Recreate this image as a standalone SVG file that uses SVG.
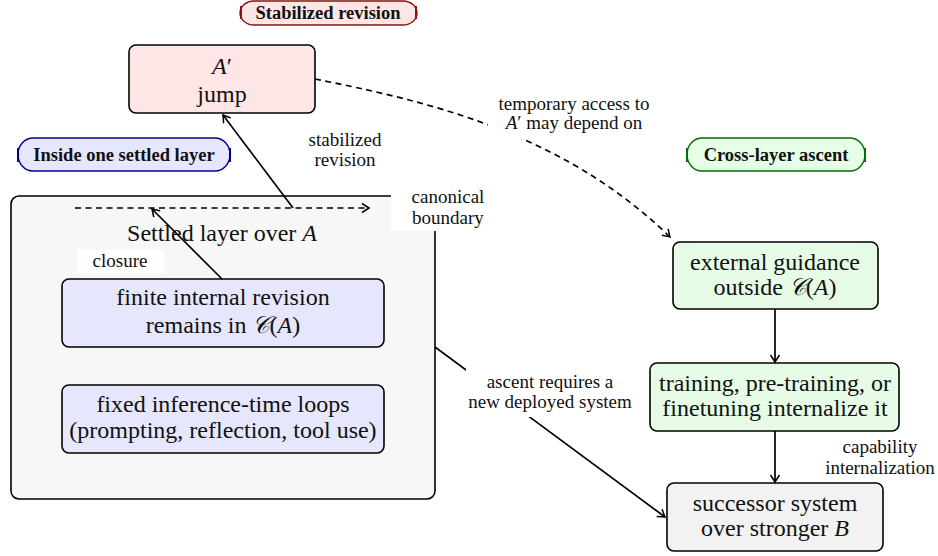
<svg xmlns="http://www.w3.org/2000/svg" width="938" height="556" viewBox="0 0 938 556">
<defs>
<style>
.node{stroke:#000;stroke-width:1.6}
text{font-family:'Liberation Serif','Times New Roman',serif;fill:#111;text-anchor:middle}
.t{font-size:24px}
.l{font-size:19px}
.tag{font-size:18.5px;font-weight:bold}
.i{font-style:italic}
.c{stroke:#000;stroke-width:1.7;fill:none}
.d{stroke-dasharray:6,4.5}
</style>
<marker id="ah" viewBox="-9 -6 11 12" markerWidth="11" markerHeight="12" refX="0" refY="0" orient="auto" markerUnits="userSpaceOnUse">
<path d="M-7,-4.5 Q-2,-1.2 0,0 Q-2,1.2 -7,4.5" fill="none" stroke="#000" stroke-width="1.5"/>
</marker>
</defs>
<rect width="938" height="556" fill="#fff"/>

<g id="tag-stabilized">
<path d="M254,1 H403 A14,12 0 0 1 403,25 H254 A14,12 0 0 1 254,1 Z" fill="#ffe6e6" stroke="#8b1010" stroke-width="1.4"/>
<path d="M241,6 V19 M416,6 V19" stroke="#8b1010" stroke-width="2"/>
<text class="tag" x="328" y="19">Stabilized revision</text>
</g>

<g id="tag-inside">
<path d="M33,138 H215 A15,16.5 0 0 1 215,171 H33 A15,16.5 0 0 1 33,138 Z" fill="#e6e6ff" stroke="#00008b" stroke-width="1.4"/>
<path d="M18,148 V162 M230,148 V162" stroke="#00008b" stroke-width="2"/>
<text class="tag" x="124" y="161">Inside one settled layer</text>
</g>

<g id="tag-cross">
<path d="M702,138 H850 A15,16.5 0 0 1 850,171 H702 A15,16.5 0 0 1 702,138 Z" fill="#e6ffe6" stroke="#007000" stroke-width="1.4"/>
<path d="M687,148 V162 M865,148 V162" stroke="#007000" stroke-width="2"/>
<text class="tag" x="776" y="161">Cross-layer ascent</text>
</g>

<g id="settled-layer">
<rect class="node" x="11" y="196" width="424" height="303" rx="8" fill="#f7f7f7"/>
<text class="t" x="222" y="241">Settled layer over <tspan class="i">A</tspan></text>
</g>

<g id="jump">
<rect class="node" x="129" y="45" width="186" height="68" rx="7" fill="#ffe6e6"/>
<text class="t" x="222" y="74"><tspan class="i">A</tspan>′</text>
<text class="t" x="222" y="102">jump</text>
</g>

<g id="finite">
<rect class="node" x="62" y="279" width="322" height="68" rx="7" fill="#e6e6fc"/>
<text class="t" x="223" y="305">finite internal revision</text>
<text class="t" x="223" y="333">remains in <tspan class="i">𝒞</tspan>(<tspan class="i">A</tspan>)</text>
</g>

<g id="fixed">
<rect class="node" x="62" y="385" width="322" height="68" rx="7" fill="#e6e6fc"/>
<text class="t" x="223" y="412">fixed inference-time loops</text>
<text class="t" x="223" y="438">(prompting, reflection, tool use)</text>
</g>

<g id="external">
<rect class="node" x="673" y="242" width="205" height="67" rx="7" fill="#e6fce6"/>
<text class="t" x="775" y="270">external guidance</text>
<text class="t" x="775" y="295">outside <tspan class="i">𝒞</tspan>(<tspan class="i">A</tspan>)</text>
</g>

<g id="training">
<rect class="node" x="650" y="363" width="249" height="68" rx="7" fill="#e6fce6"/>
<text class="t" x="775" y="391">training, pre-training, or</text>
<text class="t" x="775" y="416">finetuning internalize it</text>
</g>

<g id="successor">
<rect class="node" x="667" y="483" width="216" height="68" rx="7" fill="#f2f2f2"/>
<text class="t" x="775" y="511">successor system</text>
<text class="t" x="775" y="536">over stronger <tspan class="i">B</tspan></text>
</g>

<g id="connectors">
<path class="c d" d="M75,208 H369" marker-end="url(#ah)"/>
<path class="c" d="M293,208 L223,115" marker-end="url(#ah)"/>
<path class="c" d="M222,279 L152,209" marker-end="url(#ah)"/>
<path class="c d" d="M315,79 C420,100 560,130 670,237" marker-end="url(#ah)"/>
<path class="c" d="M435,347 L665,517" marker-end="url(#ah)"/>
<path class="c" d="M775,309 V362" marker-end="url(#ah)"/>
<path class="c" d="M775,431 V482" marker-end="url(#ah)"/>
</g>

<g id="labels">
<rect x="391" y="191" width="114" height="40" fill="#fff"/>
<text class="l" x="448" y="203">canonical</text>
<text class="l" x="448" y="224">boundary</text>
<rect x="77" y="250" width="87" height="23" fill="#fff"/>
<text class="l" x="120" y="267">closure</text>
<text class="l" x="345" y="146">stabilized</text>
<text class="l" x="345" y="166">revision</text>
<rect x="488" y="95" width="172" height="44" fill="#fff"/>
<text class="l" x="574" y="110">temporary access to</text>
<text class="l" x="574" y="129"><tspan class="i">A</tspan>′ may depend on</text>
<rect x="466" y="369" width="170" height="48" fill="#fff"/>
<text class="l" x="550" y="388">ascent requires a</text>
<text class="l" x="550" y="408">new deployed system</text>
<text class="l" x="880" y="453">capability</text>
<text class="l" x="880" y="474">internalization</text>
</g>
</svg>
